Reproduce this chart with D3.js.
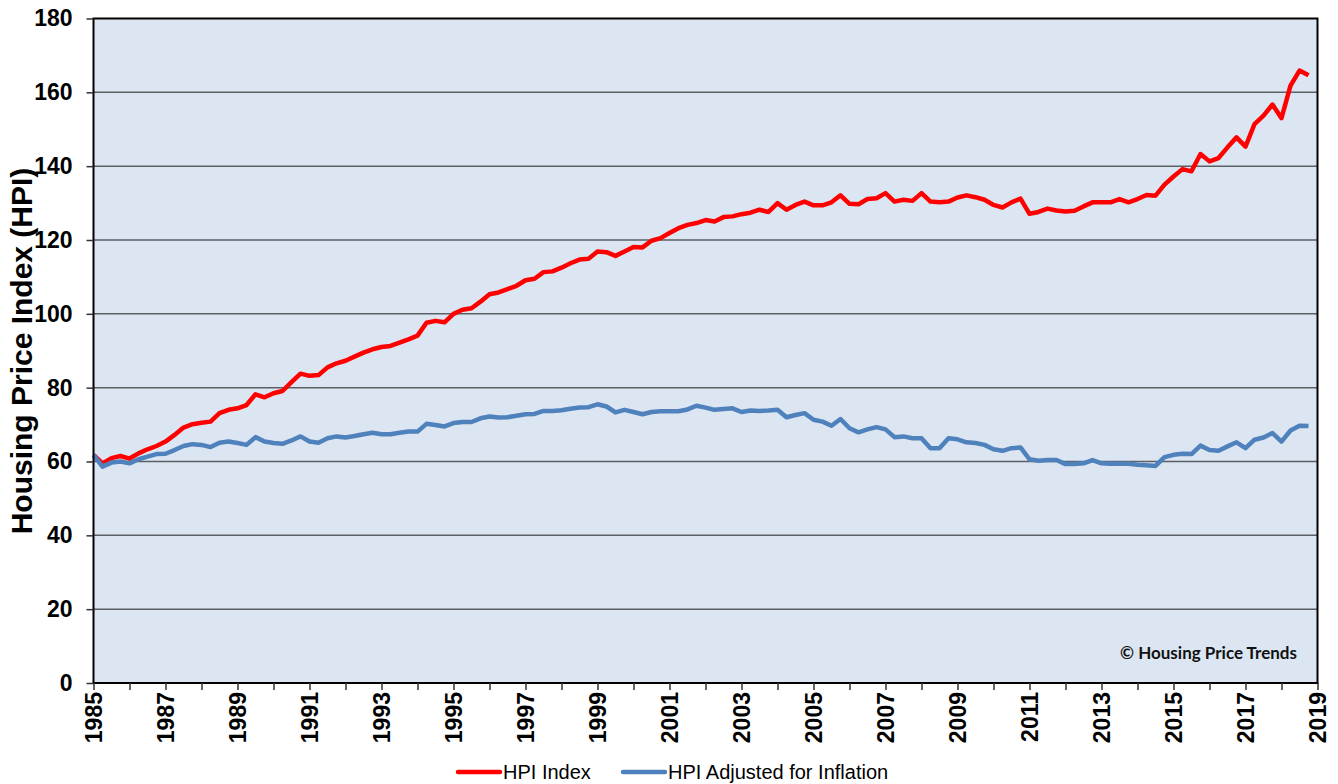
<!DOCTYPE html>
<html>
<head>
<meta charset="utf-8">
<script src="https://cdn.jsdelivr.net/npm/d3@7"></script>
<style>
  body { margin: 0; background: #fff; }
  svg { display: block; }
</style>
</head>
<body>
<div id="chart"></div>
<script>
// quarterly series, 1985 Q1 .. 2018 Q4
const startYear = 1985;
const hpiIndex = [
  61.8, 59.5, 60.9, 61.5, 60.8, 62.2, 63.3, 64.2, 65.4, 67.2,
  69.2, 70.1, 70.5, 70.8, 73.1, 74.0, 74.4, 75.3, 78.2, 77.4,
  78.5, 79.1, 81.5, 83.8, 83.2, 83.4, 85.5, 86.6, 87.3, 88.4,
  89.5, 90.4, 91.0, 91.3, 92.2, 93.1, 94.1, 97.6, 98.1, 97.7,
  100.0, 101.1, 101.5, 103.3, 105.3, 105.8, 106.7, 107.6, 109.1, 109.5,
  111.3, 111.5, 112.5, 113.7, 114.7, 114.9, 116.9, 116.7, 115.7, 116.9,
  118.1, 118.0, 119.8, 120.5, 121.9, 123.2, 124.1, 124.6, 125.4, 125.0,
  126.2, 126.4, 127.0, 127.4, 128.2, 127.6, 130.0, 128.2, 129.5, 130.4,
  129.4, 129.4, 130.2, 132.1, 129.8, 129.7, 131.1, 131.3, 132.7, 130.4,
  130.9, 130.6, 132.7, 130.4, 130.2, 130.4, 131.5, 132.1, 131.6, 130.9,
  129.5, 128.8, 130.2, 131.2, 127.1, 127.6, 128.5, 128.0, 127.7, 127.9,
  129.1, 130.2, 130.2, 130.2, 131.1, 130.2, 131.1, 132.2, 132.0, 135.0,
  137.2, 139.2, 138.6, 143.3, 141.3, 142.2, 145.1, 147.8, 145.3, 151.4,
  153.7, 156.7, 153.0, 161.8, 165.9, 164.6
];
const hpiAdjusted = [
  61.8, 58.6, 59.7, 60.0, 59.5, 60.6, 61.3, 62.0, 62.1, 63.1,
  64.2, 64.7, 64.5, 63.9, 65.1, 65.4, 65.0, 64.5, 66.6, 65.4,
  65.0, 64.8, 65.7, 66.8, 65.4, 65.1, 66.3, 66.8, 66.5, 66.9,
  67.4, 67.8, 67.4, 67.4, 67.8, 68.1, 68.1, 70.2, 69.9, 69.5,
  70.4, 70.7, 70.7, 71.7, 72.2, 71.9, 72.0, 72.4, 72.8, 72.9,
  73.7, 73.7, 73.9, 74.3, 74.6, 74.7, 75.5, 74.9, 73.3, 74.0,
  73.4, 72.8, 73.4, 73.6, 73.6, 73.6, 74.1, 75.1, 74.6, 74.0,
  74.2, 74.4, 73.4, 73.8, 73.7, 73.8, 74.0, 72.0, 72.6, 73.1,
  71.3, 70.8, 69.7, 71.5, 69.0, 67.9, 68.7, 69.3, 68.7, 66.6,
  66.8, 66.3, 66.3, 63.6, 63.6, 66.3, 66.0, 65.2, 65.0, 64.5,
  63.3, 62.9, 63.6, 63.8, 60.6, 60.2, 60.4, 60.4, 59.3, 59.3,
  59.5, 60.4, 59.5, 59.4, 59.4, 59.4, 59.1, 59.0, 58.8, 61.2,
  61.8, 62.1, 62.0, 64.3, 63.1, 62.9, 64.1, 65.2, 63.6, 65.9,
  66.5, 67.7, 65.4, 68.4, 69.7, 69.6
];
const yTicks = [0, 20, 40, 60, 80, 100, 120, 140, 160, 180];
const yearTicks = d3.range(1985, 2020);
const yearLabels = d3.range(1985, 2020, 2);
const seriesNames = ["HPI Index", "HPI Adjusted for Inflation"];
const seriesColors = ["#ff0000", "#4f81bd"];

const W = 1338, H = 784;
const margin = {top: 18.5, right: 20.5, bottom: 101, left: 93.5},
      width = W - margin.left - margin.right,
      height = H - margin.top - margin.bottom;

const font = "'Liberation Sans', Arial, sans-serif";

const svg = d3.select("#chart").append("svg")
    .attr("width", W)
    .attr("height", H);

const g = svg.append("g")
    .attr("transform", `translate(${margin.left},${margin.top})`);

const x = d3.scaleLinear().domain([1985, 2019]).range([0, width]);
const y = d3.scaleLinear().domain([0, 180]).range([height, 0]);

g.append("rect")
    .attr("width", width)
    .attr("height", height)
    .attr("fill", "#dce6f2");

// gridlines
g.append("g")
    .selectAll("line")
    .data(yTicks.filter(d => d > 0 && d < 180))
    .enter().append("line")
    .attr("x1", 0).attr("x2", width)
    .attr("y1", d => y(d)).attr("y2", d => y(d))
    .attr("stroke", "#5a5f66")
    .attr("stroke-width", 1.5);

const series = [hpiIndex, hpiAdjusted];
const line = d3.line()
    .x((d, i) => x(startYear + i / 4))
    .y(d => y(d));

series.forEach((s, i) => {
    g.append("path")
        .datum(s)
        .attr("fill", "none")
        .attr("stroke", seriesColors[i])
        .attr("stroke-width", 4.5)
        .attr("stroke-linejoin", "round")
        .attr("d", line);
});

// frame
g.append("rect")
    .attr("width", width)
    .attr("height", height)
    .attr("fill", "none")
    .attr("stroke", "#000")
    .attr("stroke-width", 2);

// y axis
const yAxis = g.append("g")
    .call(d3.axisLeft(y).tickValues(yTicks).tickSize(7).tickPadding(14));
yAxis.select(".domain").remove();
yAxis.selectAll(".tick line").attr("stroke", "#333").attr("stroke-width", 1.5);
yAxis.selectAll("text")
    .attr("font-family", font)
    .attr("font-weight", "bold")
    .attr("font-size", 23)
    .attr("fill", "#000");

// x axis
const xAxis = g.append("g")
    .attr("transform", `translate(0,${height})`)
    .call(d3.axisBottom(x).tickValues(yearTicks).tickSize(7)
        .tickFormat(d => yearLabels.includes(d) ? String(d) : ""));
xAxis.select(".domain").remove();
xAxis.selectAll(".tick line").attr("stroke", "#333").attr("stroke-width", 1.5);
xAxis.selectAll("text")
    .attr("font-family", font)
    .attr("font-weight", "bold")
    .attr("font-size", 23)
    .attr("fill", "#000")
    .attr("text-anchor", "end")
    .attr("transform", "rotate(-90)")
    .attr("x", -9)
    .attr("y", 0)
    .attr("dy", "0.36em");

// y axis title
svg.append("text")
    .attr("transform", `translate(32,351) rotate(-90)`)
    .attr("text-anchor", "middle")
    .attr("font-family", font)
    .attr("font-weight", "bold")
    .attr("font-size", 30)
    .text("Housing Price Index (HPI)");

// watermark
g.append("text")
    .attr("x", 1297 - margin.left)
    .attr("y", 659 - margin.top)
    .attr("text-anchor", "end")
    .attr("font-family", "Lato, 'Open Sans', sans-serif")
    .attr("font-weight", "bold")
    .attr("font-size", 17)
    .attr("fill", "#111")
    .text("\u00a9 Housing Price Trends");

// legend
const legendX = [458, 623];
const legend = svg.append("g")
    .selectAll("g")
    .data(seriesNames)
    .enter().append("g")
    .attr("transform", (d, i) => `translate(${legendX[i]},772)`);
legend.append("line")
    .attr("x1", 0).attr("x2", 42)
    .attr("stroke", (d, i) => seriesColors[i])
    .attr("stroke-width", 4.5)
    .attr("stroke-linecap", "round");
legend.append("text")
    .attr("x", 45)
    .attr("dy", "0.35em")
    .attr("font-family", font)
    .attr("font-size", 20)
    .attr("fill", "#000")
    .text(d => d);
</script>
</body>
</html>
